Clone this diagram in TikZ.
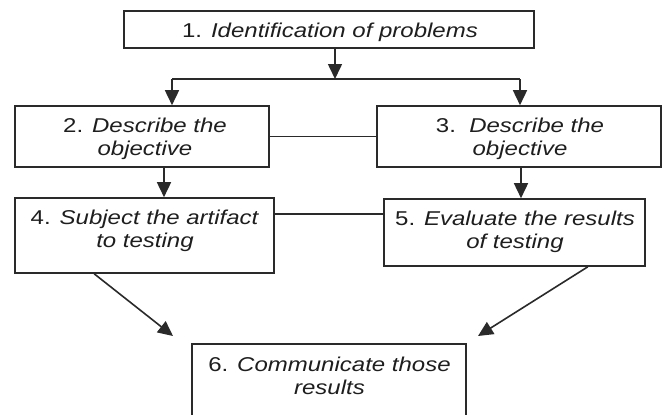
\documentclass[tikz,border=0pt]{standalone}
\usepackage{fontspec}
\setmainfont[FakeStretch=1.2]{Liberation Sans}
\usetikzlibrary{arrows.meta}
\definecolor{ink}{HTML}{2A2A2A}
\definecolor{txt}{HTML}{1E1E1E}
\tikzset{
  stepbox/.style={draw=ink, line width=1.6pt, rectangle, inner sep=0pt, fill=none},
  steptext/.style={text=txt, align=center, inner sep=0pt, font=\fontsize{20}{22.5}\selectfont},
  conn/.style={draw=ink, line width=1.6pt},
  arr/.style={conn, -{Triangle[length=15pt,width=14pt]}},
}
\begin{document}
\begin{tikzpicture}[x=1pt,y=-1pt]
\useasboundingbox (0,0) rectangle (664,415);
\clip (0,0) rectangle (664,415);
\fill[white] (0,0) rectangle (664,415);

% boxes
\node[stepbox, minimum width=410pt, minimum height=37pt] (box1) at (329,29.5) {};
\node[stepbox, minimum width=254pt, minimum height=61pt] (box2) at (142,136.5) {};
\node[stepbox, minimum width=284pt, minimum height=61pt] (box3) at (519,136.5) {};
\node[stepbox, minimum width=259pt, minimum height=75pt] (box4) at (144.5,235.5) {};
\node[stepbox, minimum width=261pt, minimum height=67pt] (box5) at (514.5,232.5) {};
\node[stepbox, minimum width=274pt, minimum height=90pt] (box6) at (329,389) {};

% texts
\node[steptext] (t1) at (330,32) {1. \textit{Identification of problems}};
\node[steptext] (t2) at (145,139) {2. \textit{Describe the}\\\textit{objective}};
\node[steptext] (t3) at (520,139) {3.\ \ \textit{Describe the}\\\textit{objective}};
\node[steptext] (t4) at (145,231) {4. \textit{Subject the artifact}\\\textit{to testing}};
\node[steptext] (t5) at (515,232) {5. \textit{Evaluate the results}\\\textit{of testing}};
\node[steptext] (t6) at (329.5,376) {6. \textit{Communicate those}\\\textit{results}};

% helper coordinates
\coordinate (j) at (335,79);
\coordinate (jl) at (172,79);
\coordinate (jr) at (520,79);
\coordinate (c24) at (164,0);
\coordinate (c35) at (521,0);
\coordinate (l45) at (0,214);
\coordinate (t6l) at (173,336);
\coordinate (t6r) at (478,336);

% connectors
\draw[arr] (j |- box1.south) -- (j);
\draw[conn] (jl) -- (jr);
\draw[arr] (jl) -- (jl |- box2.north);
\draw[arr] (jr) -- (jr |- box3.north);
\draw[conn] (box2.east) -- (box3.west);
\draw[arr] (c24 |- box2.south) -- (c24 |- box4.north);
\draw[arr] (c35 |- box3.south) -- (c35 |- box5.north);
\draw[conn] (box4.east |- l45) -- (box5.west |- l45);
\draw[arr] ([xshift=80pt]box4.south west) -- (t6l);
\draw[arr] ([xshift=-58pt]box5.south east) -- (t6r);
\end{tikzpicture}
\end{document}
